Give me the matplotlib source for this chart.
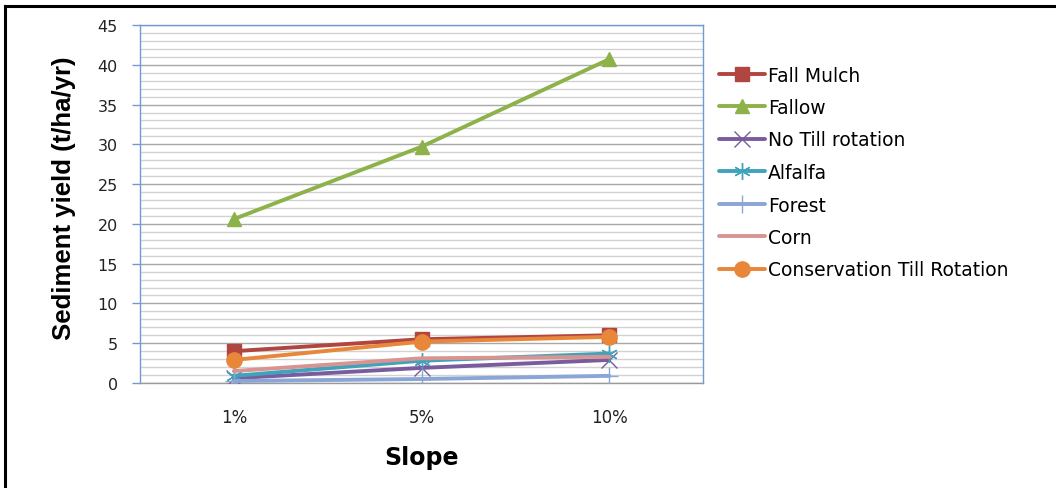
import matplotlib
matplotlib.use("Agg")
import matplotlib.pyplot as plt
from matplotlib.lines import Line2D
from matplotlib.ticker import MultipleLocator

# Sediment yield by hillslope gradient for each land cover
slopes = ["1%", "5%", "10%"]
fall_mulch = [4.0, 5.5, 6.0]
fallow = [20.6, 29.7, 40.7]
no_till_rotation = [0.6, 1.9, 2.9]
alfalfa = [0.9, 2.8, 3.7]
forest = [0.25, 0.5, 0.9]
corn = [1.5, 3.1, 3.3]
conservation_till = [2.9, 5.2, 5.8]

names = ["Fall Mulch", "Fallow", "No Till rotation", "Alfalfa", "Forest",
         "Corn", "Conservation Till Rotation"]
values = [fall_mulch, fallow, no_till_rotation, alfalfa, forest, corn,
          conservation_till]
colors = ["#B0463F", "#8DB24A", "#7A5C9E", "#3FA3BC", "#8AA6D6", "#D89491",
          "#E8873A"]
markers = ["s", "^", "x", (6, 2, 0), "+", None, "o"]
msizes = [10, 10, 11, 12, 13, 0, 11]

plt.rcParams["font.family"] = ["DejaVu Sans"]

fig = plt.figure(figsize=(10.56, 4.89), dpi=100)
ax = fig.add_axes([140 / 1056, 1 - 384 / 489, 563 / 1056, 358 / 489])

x = list(range(len(slopes)))
for name, vals, c, m, ms in zip(names, values, colors, markers, msizes):
    ax.plot(x, vals, color=c, lw=2.8, marker=m, markersize=ms,
            markeredgewidth=1.0, markerfacecolor=c, markeredgecolor=c,
            label=name, solid_capstyle="round", zorder=3)

ax.set_xlim(-0.5, 2.5)
ax.set_ylim(0, 45)
ax.set_xticks(x)
ax.set_xticklabels(slopes)
ax.yaxis.set_major_locator(MultipleLocator(5))
ax.yaxis.set_minor_locator(MultipleLocator(1))
ax.grid(which="minor", axis="y", color="#D2D2D2", lw=1.0, zorder=0)
ax.grid(which="major", axis="y", color="#A8A8A8", lw=1.0, zorder=0)
ax.set_axisbelow(True)

for side in ["left", "top", "right"]:
    ax.spines[side].set_color("#6F9AD6")
    ax.spines[side].set_linewidth(1.0)
ax.spines["bottom"].set_color("#9A9A9A")
ax.spines["bottom"].set_linewidth(1.0)

ax.tick_params(axis="y", which="major", direction="out", length=6, width=1,
               color="#6F9AD6", labelsize=11.5, pad=10, labelcolor="#222222")
ax.tick_params(axis="y", which="minor", length=0)
ax.tick_params(axis="x", length=0, labelsize=12, pad=18, labelcolor="#222222")

ax.set_xlabel("Slope", fontsize=17, fontweight="bold", labelpad=14)
ax.set_ylabel("Sediment yield (t/ha/yr)", fontsize=18.5, fontweight="bold",
              family="Liberation Sans")
ax.yaxis.set_label_coords(-0.113, 0.52)

fig.legend(loc="upper left", bbox_to_anchor=(711 / 1056, 1 - 59 / 489),
           frameon=False, fontsize=13.5, handlelength=2.5,
           handletextpad=0.15, labelspacing=0.72, borderaxespad=0)

# Outer frame running off the top-right and bottom edges
fig.add_artist(Line2D([5 / 1056, 1.0], [1 - 6.5 / 489] * 2,
                      transform=fig.transFigure, color="black", lw=2.2))
fig.add_artist(Line2D([5 / 1056] * 2, [0.0, 1 - 6.5 / 489],
                      transform=fig.transFigure, color="black", lw=2.2))

fig.savefig("out.png", dpi=100)
